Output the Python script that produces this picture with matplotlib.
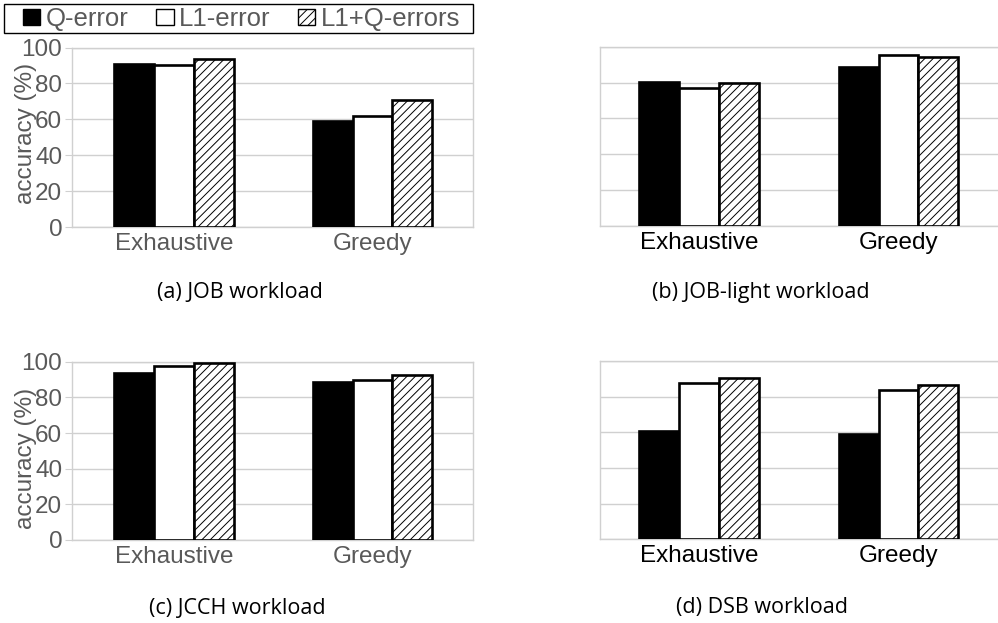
import matplotlib
matplotlib.use("Agg")
import matplotlib.pyplot as plt
import numpy as np
from matplotlib.patches import Patch, Rectangle

# ---- data -------------------------------------------------------------
categories = ["Exhaustive", "Greedy"]
series_names = ["Q-error", "L1-error", "L1+Q-errors"]

job_q = [91, 59.3]
job_l1 = [90.3, 61.6]
job_l1q = [93.5, 70.6]

joblight_q = [80.4, 88.7]
joblight_l1 = [77, 95.3]
joblight_l1q = [80, 94.2]

jcch_q = [93.7, 88.7]
jcch_l1 = [97.5, 89.5]
jcch_l1q = [99.3, 92.4]

dsb_q = [60.6, 58.8]
dsb_l1 = [87.4, 83.5]
dsb_l1q = [90.5, 86.4]

y_ticks = [0, 20, 40, 60, 80, 100]
captions = ["(a) JOB workload", "(b) JOB-light workload",
            "(c) JCCH workload", "(d) DSB workload"]

# ---- style ------------------------------------------------------------
W, H = 998, 623
GRAY_TXT = "#595959"
GRID = "#d0d0d0"
SANS = "Liberation Sans"
CAP_FONT = ["Open Sans", "DejaVu Sans"]
FS = 17.5

plt.rcParams["hatch.linewidth"] = 0.7
fig = plt.figure(figsize=(W / 100, H / 100), dpi=100)


def rect(x0, x1, ytop, ybot):
    return [x0 / W, 1 - ybot / H, (x1 - x0) / W, (ybot - ytop) / H]


fills = ["black", "white", "white"]
hatches = [None, None, "////"]


def draw_panel(r, xlim, series, left_labels, label_y=0.5):
    ax = fig.add_axes(r)
    x = np.arange(len(categories))
    w = 0.2
    for i, vals in enumerate(series):
        ax.bar(x + (i - 1) * w, vals, width=w, color=fills[i],
               edgecolor="black", linewidth=1.9, hatch=hatches[i], zorder=3)
    ax.set_xlim(*xlim)
    ax.set_ylim(0, 100)
    ax.set_yticks(y_ticks)
    ax.yaxis.grid(True, color=GRID, linewidth=1.0, zorder=0)
    for s in ax.spines.values():
        s.set_color(GRID)
        s.set_linewidth(1.0)
    ax.set_xticks(x)
    ax.set_xticklabels(categories, fontsize=FS, family=SANS,
                       color=GRAY_TXT if left_labels else "black")
    ax.tick_params(axis="x", length=0, pad=4)
    if left_labels:
        ax.set_yticklabels([str(t) for t in y_ticks], fontsize=FS,
                           family=SANS, color=GRAY_TXT)
        ax.tick_params(axis="y", length=5, color=GRID, pad=2)
        ax.set_ylabel("accuracy (%)", fontsize=FS, family=SANS,
                      color=GRAY_TXT, va="center")
        ax.yaxis.set_label_coords(-0.115, label_y)
    else:
        ax.set_yticklabels([])
        ax.tick_params(axis="y", length=0)
    return ax


draw_panel(rect(72, 473, 47.5, 227), (-0.514, 1.506),
           [job_q, job_l1, job_l1q], True, label_y=0.524)
draw_panel(rect(600, 999, 46.7, 226), (-0.496, 1.504),
           [joblight_q, joblight_l1, joblight_l1q], False)
draw_panel(rect(72, 473, 361.7, 540), (-0.514, 1.506),
           [jcch_q, jcch_l1, jcch_l1q], True, label_y=0.46)
draw_panel(rect(600, 999, 361, 539.3), (-0.496, 1.504),
           [dsb_q, dsb_l1, dsb_l1q], False)

# captions
cap_pos = [(240, 293), (761, 293), (237, 608), (762, 608)]
for (cx, cy), txt in zip(cap_pos, captions):
    fig.text(cx / W, 1 - cy / H, txt, ha="center", va="center",
             fontsize=15.5, family=CAP_FONT, color="black")

# legend: entries without frame, box drawn separately
handles = [Patch(facecolor=fills[i], edgecolor="black", linewidth=1.0,
                 hatch=hatches[i]) for i in range(3)]
leg = fig.legend(handles, series_names, loc="center left",
                 bbox_to_anchor=(23 / W, 1 - 19 / H),
                 ncol=3, frameon=False,
                 prop={"family": SANS, "size": 18.5},
                 handlelength=0.68, handleheight=0.62, handletextpad=0.2,
                 columnspacing=1.08, borderpad=0, borderaxespad=0)
for t in leg.get_texts():
    t.set_color(GRAY_TXT)
fig.patches.append(Rectangle((4 / W, 1 - 33 / H), 469 / W, 29 / H,
                             transform=fig.transFigure, fill=False,
                             edgecolor="black", linewidth=1.0))

fig.savefig("out.png", dpi=100)
